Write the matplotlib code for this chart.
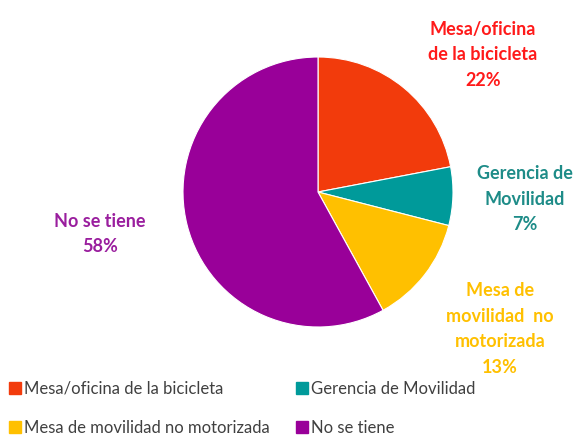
import matplotlib.pyplot as plt
from matplotlib.lines import Line2D

categories = [
    "Mesa/oficina de la bicicleta",
    "Gerencia de Movilidad",
    "Mesa de movilidad no motorizada",
    "No se tiene",
]
values = [22, 7, 13, 58]
label_texts = [
    "Mesa/oficina\nde la bicicleta",
    "Gerencia de\nMovilidad",
    "Mesa de\nmovilidad  no\nmotorizada",
    "No se tiene",
]
colors = ["#F23B0C", "#009A9A", "#FFC000", "#990099"]
label_colors = ["#FF1A1A", "#1E8C88", "#FFC000", "#9A1E9E"]
# label centers in pixels (x, y from top)
label_pos = [(483, 55), (525, 199), (500, 329), (100, 234)]

W, H = 583, 440
fig = plt.figure(figsize=(W / 100, H / 100), dpi=100)
plt.rcParams["font.family"] = ["Lato", "DejaVu Sans"]

cx, cy, r = 318, 192, 135
ax = fig.add_axes([(cx - r) / W, 1 - (cy + r) / H, 2 * r / W, 2 * r / H])
wedges, _ = ax.pie(values, colors=colors, startangle=90, counterclock=False,
                   wedgeprops=dict(linewidth=0.8, edgecolor="white"))
ax.set_xlim(-1, 1)
ax.set_ylim(-1, 1)
ax.set_aspect("equal")
ax.axis("off")

for text, val, col, (x, y) in zip(label_texts, values, label_colors, label_pos):
    fig.text(x / W, 1 - y / H, f"{text}\n{val}%", color=col, fontsize=13,
             fontweight="bold", ha="center", va="center", linespacing=1.62)

# legend fills row-wise in the reference
order = [0, 2, 1, 3]
handles = [Line2D([0], [0], marker="s", linestyle="", markersize=9,
                  markerfacecolor=colors[i], markeredgecolor=colors[i]) for i in order]
fig.legend(handles, [categories[i] for i in order], ncol=2, loc="lower left",
           bbox_to_anchor=(-0.014, -0.025), frameon=False, fontsize=12,
           handletextpad=0.05, columnspacing=1.4, labelspacing=1.4,
           handlelength=1.0, labelcolor="#404040")

fig.savefig("out.png", dpi=100)
